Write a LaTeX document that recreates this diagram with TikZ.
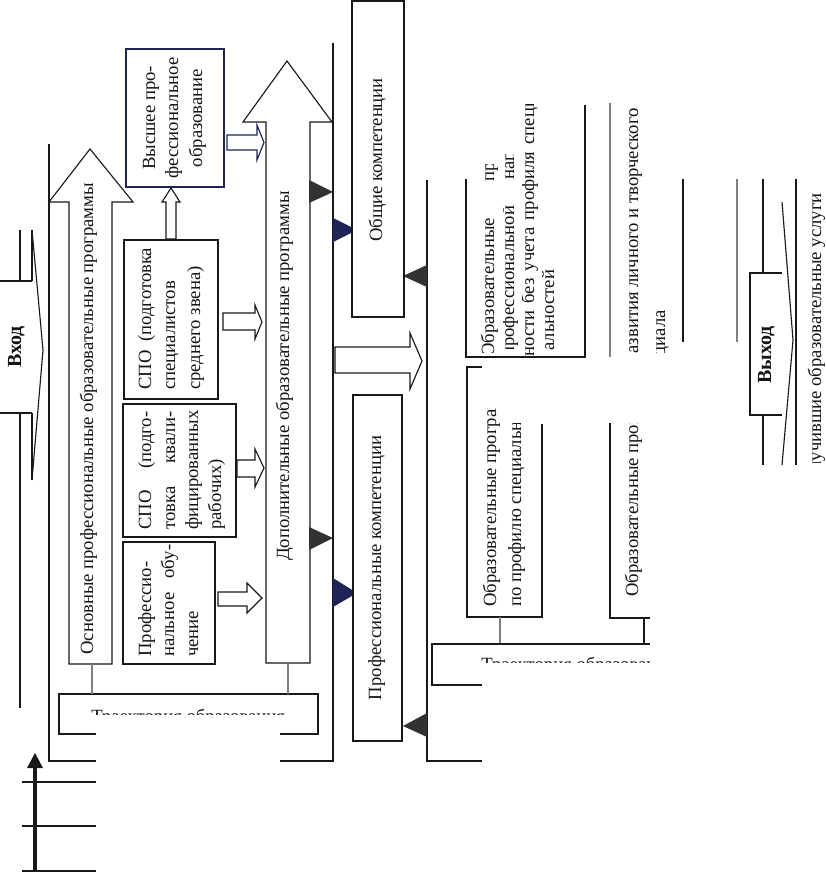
\documentclass[tikz,border=0pt]{standalone}
\usepackage{fontspec}
\setmainfont{Liberation Serif}
\newlength\pxu
\setlength\pxu{0.75pt}
\definecolor{navyc}{RGB}{30,36,88}
\definecolor{darkc}{RGB}{50,50,50}
\begin{document}
\begin{tikzpicture}[x=0.75pt,y=-0.75pt,
  ln/.style={line width=0.85pt, draw=black!90},
  gln/.style={line width=0.85pt, draw=black!50},
  boxs/.style={draw=black!90, line width=0.85pt, fill=white, inner sep=0pt},
  hollow/.style={draw=black!90, line width=0.85pt, fill=white, line join=miter},
  tx/.style={font=\fontsize{14pt}{17pt}\selectfont, inner sep=0pt, text=black!92},
  rl/.style={tx, rotate=90, anchor=mid west},
  rc/.style={tx, rotate=90, anchor=mid},
  re/.style={tx, rotate=90, anchor=mid east},
  bld/.style={font=\fontsize{15pt}{17pt}\selectfont\bfseries}
]
\fill[white] (0,0) rectangle (825,873);
\useasboundingbox (0,0) rectangle (825,873);

% ---------- frames
\draw[ln] (49,144) -- (49,761) -- (96,761);
\draw[ln] (280,761) -- (333,761) -- (333,43);
\draw[ln] (427,180) -- (427,761) -- (482,761);

% ---------- Вход
\draw[ln] (20,230) -- (20,281);
\draw[ln] (20,413) -- (20,708);
\draw[ln] (32,230) -- (32,281);
\draw[ln] (32,413) -- (32,480);
\draw[ln] (0,281) -- (32,281);
\draw[ln] (0,413) -- (32,413);
\draw[ln] (32,230) -- (43,350) -- (32,480);
\node[rc, bld] (vhod) at (18,347) {Вход};

% ---------- Выход
\draw[ln] (763,179) -- (763,273);
\draw[ln] (763,415) -- (763,465);
\draw[ln] (782,273) -- (750,273) -- (750,415) -- (782,415);
\draw[ln] (782,202) -- (793,340) -- (782,465);
\draw[ln] (796,179) -- (796,465);
\draw[ln] (683,179) -- (683,342);
\draw[gln] (737,179) -- (737,342);
\node[rc, bld] (vyhod) at (768,355) {Выход};
\begin{scope}
\clip (800,100) rectangle (830,462);
\node[re] (usl) at (818,193) {получившие образовательные услуги};
\end{scope}

% ---------- big arrows
\draw[hollow] (69,664) -- (69,202) -- (49,202) -- (90,149) -- (133,202) -- (112,202) -- (112,664) -- cycle;
\draw[hollow] (266,663) -- (266,122) -- (243,122) -- (287,61) -- (332,122) -- (310,122) -- (310,663) -- cycle;
\node[rl] (osn) at (90,655) {Основные профессиональные образовательные программы};
\node[rl] (dop) at (286,561) {Дополнительные образовательные программы};

% ---------- boxes of the left column
\node[boxs, minimum width=92\pxu, minimum height=122\pxu] (pob) at (169,603) {};
\node[boxs, minimum width=113\pxu, minimum height=133\pxu] (spok) at (179.5,470.5) {};
\node[boxs, minimum width=94\pxu, minimum height=159\pxu] (spos) at (171,319.5) {};
\node[boxs, draw=navyc, minimum width=98\pxu, minimum height=138\pxu] (vpo) at (175,118) {};

\node[rl] at (148,657) {Профессио-};
\node[rl] at (171,657) {\makebox[112\pxu][s]{нальное обу-}};
\node[rl] at (195,657) {чение};

\node[rl] at (148,530) {\makebox[118\pxu][s]{СПО (подго-}};
\node[rl] at (172,530) {\makebox[118\pxu][s]{товка квали-}};
\node[rl] at (195,530) {фицированных};
\node[rl] at (218,530) {рабочих)};

\node[rl] at (148,390) {\makebox[142\pxu][s]{СПО (подготовка}};
\node[rl] at (172,390) {специалистов};
\node[rl] at (197,390) {среднего звена)};

\node[rc] at (152,118) {Высшее про-};
\node[rc] at (175,118) {фессиональное};
\node[rc] at (199,118) {образование};

% ---------- hollow arrows
\draw[hollow] (166,239) -- (166,202) -- (162,202) -- (171,188) -- (180,202) -- (176,202) -- (176,239) -- cycle;
\draw[hollow, draw=navyc] (227,135) -- (257,135) -- (257,125) -- (264,142.5) -- (257,160) -- (257,150) -- (227,150) -- cycle;
\draw[hollow] (223,313) -- (255,313) -- (255,305) -- (262,322) -- (255,339) -- (255,330) -- (223,330) -- cycle;
\draw[hollow] (237,460) -- (255,460) -- (255,449) -- (264,468) -- (255,487) -- (255,477) -- (237,477) -- cycle;
\draw[hollow] (218,592) -- (247,592) -- (247,583) -- (262,598) -- (247,613) -- (247,606) -- (218,606) -- cycle;
\draw[hollow] (335,347) -- (410,347) -- (410,333) -- (422,361) -- (410,389) -- (410,373) -- (335,373) -- cycle;

% ---------- triangles
\fill[darkc] (309,180) -- (333,192) -- (309,203) -- cycle;
\fill[darkc] (309,527) -- (333,538) -- (309,550) -- cycle;
\fill[navyc] (333,218) -- (357,230) -- (333,242) -- cycle;
\fill[navyc] (333,578) -- (357,593) -- (333,607) -- cycle;
\fill[darkc] (427,265) -- (403,276) -- (427,287) -- cycle;
\fill[darkc] (427,713) -- (403,726) -- (427,737) -- cycle;

% ---------- competences
\node[boxs, minimum width=52\pxu, minimum height=316\pxu] (obk) at (378,159) {};
\node[rc] at (379,160) {Общие компетенции};
\node[boxs, minimum width=49\pxu, minimum height=346\pxu] (prk) at (377.5,568) {};
\node[rc] at (378,568) {Профессиональные компетенции};

% ---------- left Траектория box
\draw[ln] (96,734) -- (59,734) -- (59,694) -- (318,694) -- (318,734) -- (280,734);
\draw[gln] (92,664) -- (92,694);
\draw[gln] (288,663) -- (288,694);
\begin{scope}
\clip (55,690) rectangle (325,714.5);
\node[tx, anchor=base west] (tr1) at (91,722) {Траектория образования};
\end{scope}

% ---------- upper right box
\draw[ln] (585,105) -- (585,357) -- (466,357) -- (466,179);
\draw[gln] (610,103) -- (610,357);
\begin{scope}
\clip (470,165) rectangle (503,352);
\node[rl] at (491,357) {\makebox[265\pxu][s]{Образовательные программы}};
\end{scope}
\begin{scope}
\clip (503,155) rectangle (522,348);
\node[rl] at (511,357) {\makebox[265\pxu][s]{профессиональной направлен-}};
\end{scope}
\begin{scope}
\clip (522,105) rectangle (542,358);
\node[rl] at (531,357) {\makebox[265\pxu][s]{ности без учета профиля специ-}};
\end{scope}
\begin{scope}
\clip (542,105) rectangle (565,358);
\node[rl] at (551,351) {альностей};
\end{scope}
\begin{scope}
\clip (620,100) rectangle (650,352);
\node[re] at (635,108) {программы развития личного и творческого};
\end{scope}
\begin{scope}
\clip (650,100) rectangle (676,352);
\node[re] at (662,310) {потенциала};
\end{scope}

% ---------- lower right boxes
\draw[ln] (482,367) -- (467,367) -- (467,617) -- (542,617) -- (542,424);
\draw[ln] (610,423) -- (610,618) -- (650,618);
\draw[gln] (500,617) -- (500,644);
\draw[ln] (644,618) -- (644,645);
\begin{scope}
\clip (478,408) rectangle (506,620);
\node[rl] at (493,607) {Образовательные программы};
\end{scope}
\begin{scope}
\clip (506,423) rectangle (535,620);
\node[rl] at (518,607) {по профилю специальности};
\end{scope}
\begin{scope}
\clip (620,423) rectangle (650,620);
\node[rl] at (635,597) {Образовательные программы};
\end{scope}

% ---------- right Траектория box
\draw[ln] (650,644) -- (432,644) -- (432,685) -- (482,685);
\begin{scope}
\clip (440,640) rectangle (650,662.5);
\node[tx, anchor=base west] (tr2) at (481,670) {Траектория образования};
\end{scope}

% ---------- bottom-left arrow and lines
\draw[line width=3pt, black!90] (35,871) -- (35,765);
\fill[black!90] (27,768) -- (35,753) -- (43,768) -- cycle;
\draw[line width=1.2pt, black!90] (22,782) -- (96,782);
\draw[line width=1.2pt, black!90] (22,826) -- (96,826);
\draw[line width=1.2pt, black!90] (22,871) -- (96,871);
\end{tikzpicture}
\end{document}
